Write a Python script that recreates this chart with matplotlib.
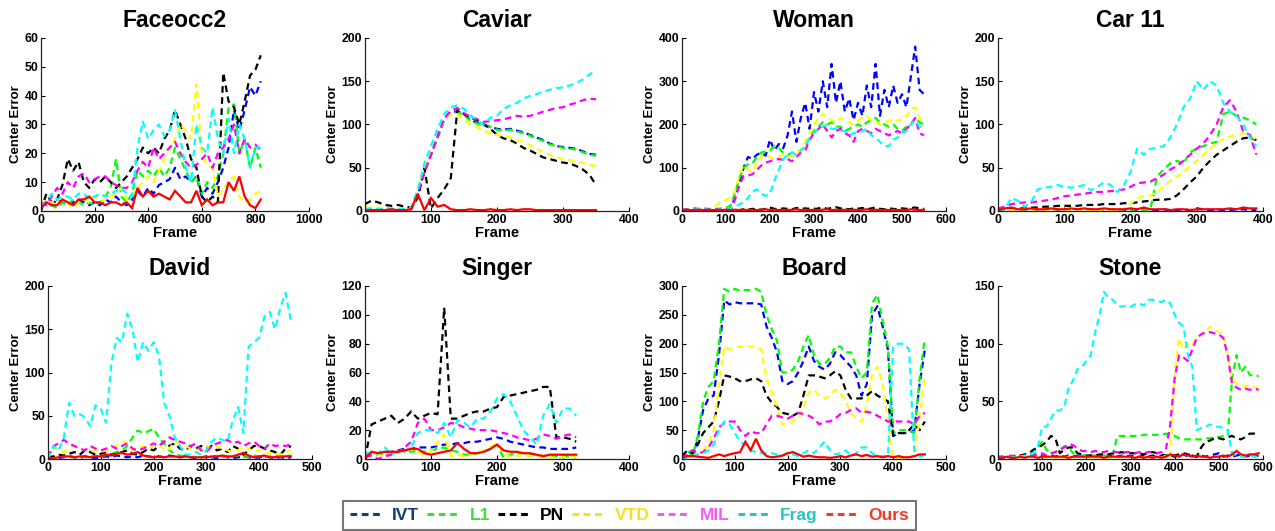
import numpy as np
import matplotlib.pyplot as plt
from matplotlib.lines import Line2D

plt.rcParams['font.family'] = ['Liberation Sans', 'DejaVu Sans']
plt.rcParams['font.weight'] = 'bold'

trackers = ["IVT", "L1", "PN", "VTD", "MIL", "Frag", "Ours"]
line_colors = ["#0000ff", "#00ff00", "#000000", "#ffff00", "#ff00ff", "#00ffff", "#ff0000"]
legend_colors = ["#143c78", "#3ddc3d", "#000000", "#f5e21a", "#f35cf3", "#27c4c4", "#f03a2a"]

# ---- Faceocc2 (frames every 20) ----
face_frames = np.arange(0, 821, 20)
face_ivt = [2, 3, 2, 4, 3, 2, 3, 4, 3, 2,
            3, 2, 4, 3, 5, 3, 2, 4, 7, 5,
            8, 6, 9, 10, 11, 15, 11, 12, 10, 12,
            5, 8, 6, 10, 15, 22, 35, 28, 35, 43,
            40, 45]
face_l1 = [2, 3, 2, 1, 3, 2, 4, 3, 2, 3,
           2, 3, 5, 8, 18, 5, 3, 6, 14, 12,
           14, 12, 15, 12, 15, 22, 18, 14, 10, 12,
           6, 10, 8, 12, 20, 36, 37, 20, 25, 15,
           22, 15]
face_pn = [0, 6, 3, 4, 9, 18, 14, 17, 10, 8,
           11, 10, 12, 10, 8, 10, 12, 15, 18, 22,
           20, 22, 20, 25, 28, 35, 30, 25, 18, 15,
           5, 3, 5, 3, 48, 38, 36, 30, 38, 47,
           49, 54]
face_vtd = [2, 4, 3, 2, 4, 3, 1, 3, 4, 3,
            5, 3, 4, 5, 6, 8, 4, 5, 8, 10,
            12, 10, 14, 18, 22, 25, 30, 28, 25, 44,
            20, 16, 15, 5, 8, 10, 12, 5, 3, 4,
            6, 7]
face_mil = [3, 2, 5, 8, 6, 10, 8, 12, 13, 10,
            11, 12, 12, 10, 9, 8, 8, 10, 14, 17,
            15, 22, 18, 20, 22, 24, 20, 17, 15, 16,
            18, 20, 15, 20, 22, 25, 30, 20, 25, 22,
            23, 21]
face_frag = [2, 3, 6, 4, 5, 5, 4, 6, 6, 4,
             5, 6, 5, 6, 7, 8, 6, 5, 22, 31,
             25, 28, 30, 26, 28, 35, 25, 15, 10, 30,
             22, 20, 36, 25, 20, 32, 20, 30, 25, 15,
             22, 22]
face_ours = [1, 3, 2, 2, 4, 3, 2, 4, 4, 5,
             3, 3, 2, 3, 3, 2, 3, 1, 8, 5,
             7, 5, 6, 5, 4, 7, 5, 3, 3, 7,
             2, 4, 2, 3, 3, 10, 7, 12, 5, 2,
             1, 4]

# ---- Caviar (frames every 10) ----
cav_frames = np.arange(0, 351, 10)
cav_ivt = [2, 1, 2, 2, 1, 2, 2, 2, 20, 45,
           65, 85, 105, 115, 115, 112, 105, 102, 100, 97,
           95, 94, 95, 93, 91, 88, 85, 82, 78, 75,
           74, 73, 72, 69, 66, 65]
cav_l1 = [3, 2, 1, 2, 2, 1, 2, 3, 22, 47,
          66, 86, 106, 114, 114, 111, 104, 101, 99, 97,
          94, 93, 94, 92, 90, 87, 84, 81, 77, 75,
          73, 72, 71, 68, 65, 64]
cav_pn = [8, 12, 10, 7, 6, 7, 5, 4, 15, 50,
          3, 15, 25, 38, 118, 112, 108, 105, 100, 95,
          88, 84, 82, 78, 73, 70, 66, 62, 60, 58,
          56, 55, 52, 48, 42, 30]
cav_vtd = [5, 3, 4, 3, 2, 3, 2, 3, 25, 50,
           68, 88, 105, 112, 112, 105, 100, 97, 93, 90,
           88, 87, 85, 82, 80, 76, 72, 68, 65, 62,
           60, 59, 57, 56, 53, 52]
cav_mil = [2, 2, 1, 3, 2, 2, 2, 3, 20, 45,
           65, 87, 107, 116, 119, 113, 109, 106, 103, 104,
           105, 106, 108, 110, 109, 110, 112, 115, 117, 119,
           120, 123, 125, 128, 130, 129]
cav_frag = [2, 3, 2, 2, 3, 2, 3, 4, 25, 55,
            75, 95, 112, 120, 122, 118, 110, 105, 100, 108,
            110, 118, 122, 125, 130, 133, 135, 138, 140, 142,
            143, 145, 148, 152, 158, 162]
cav_ours = [1, 1, 1, 1, 2, 1, 1, 2, 20, 1,
            15, 5, 7, 2, 1, 1, 2, 1, 1, 2,
            1, 1, 2, 1, 2, 2, 1, 1, 1, 1,
            1, 1, 1, 1, 1, 1]

# ---- Woman (frames every 10) ----
wom_frames = np.arange(0, 551, 10)
wom_ivt = [3, 2, 4, 3, 5, 4, 3, 4, 2, 3,
           3, 5, 30, 60, 100, 125, 120, 130, 135, 128,
           165, 140, 155, 145, 175, 230, 160, 215, 250, 190,
           275, 230, 300, 240, 340, 250, 300, 230, 260, 210,
           250, 220, 290, 240, 340, 220, 280, 240, 290, 250,
           270, 240, 310, 380, 280, 270]
wom_l1 = [3, 4, 5, 4, 5, 6, 5, 6, 5, 6,
          8, 12, 40, 75, 100, 108, 110, 125, 135, 138,
          140, 150, 145, 135, 130, 135, 135, 140, 150, 170,
          185, 195, 205, 200, 205, 195, 195, 185, 190, 195,
          200, 195, 205, 210, 215, 205, 200, 195, 200, 190,
          185, 195, 200, 215, 205, 200]
wom_pn = [2, 3, 2, 4, 3, 2, 3, 4, 3, 2,
          3, 4, 3, 2, 4, 3, 5, 4, 3, 5,
          8, 5, 4, 6, 5, 4, 7, 5, 6, 5,
          4, 6, 8, 5, 7, 9, 6, 5, 4, 6,
          5, 7, 4, 6, 8, 5, 4, 6, 5, 4,
          6, 5, 7, 8, 6, 5]
wom_vtd = [3, 4, 3, 5, 4, 5, 6, 8, 15, 22,
           25, 32, 45, 85, 105, 95, 90, 110, 125, 130,
           125, 120, 125, 130, 125, 125, 130, 145, 160, 180,
           200, 215, 225, 215, 210, 205, 215, 210, 205, 200,
           210, 215, 220, 210, 205, 200, 205, 210, 205, 210,
           210, 220, 235, 240, 215, 205]
wom_mil = [2, 4, 5, 6, 4, 5, 4, 5, 4, 5,
           4, 5, 25, 60, 80, 82, 85, 95, 105, 112,
           115, 118, 120, 118, 120, 115, 125, 135, 140, 165,
           180, 190, 200, 185, 170, 185, 190, 180, 175, 160,
           185, 190, 185, 180, 190, 185, 180, 175, 180, 185,
           180, 190, 200, 215, 180, 175]
wom_frag = [2, 3, 4, 3, 5, 4, 3, 4, 3, 4,
            5, 6, 10, 15, 20, 30, 45, 50, 40, 35,
            40, 70, 95, 120, 130, 135, 130, 140, 150, 170,
            180, 190, 195, 200, 190, 190, 185, 185, 175, 180,
            180, 185, 190, 175, 170, 160, 150, 150, 165, 170,
            180, 185, 200, 210, 195, 195]
wom_ours = [2, 3, 2, 2, 3, 2, 3, 2, 3, 2,
            3, 2, 3, 2, 3, 2, 3, 2, 3, 4,
            2, 3, 2, 3, 2, 3, 4, 2, 3, 2,
            3, 2, 3, 4, 2, 3, 2, 3, 2, 3,
            2, 3, 4, 2, 3, 2, 3, 2, 3, 2,
            3, 2, 4, 3, 2, 3]

# ---- Car 11 (frames every 10) ----
car_frames = np.arange(0, 391, 10)
car_ivt = [0, 1, 2, 1, 1, 2, 1, 1, 2, 1,
           1, 2, 1, 1, 2, 1, 1, 2, 1, 1,
           2, 1, 3, 1, 1, 2, 1, 1, 2, 1,
           3, 2, 1, 2, 1, 1, 2, 2, 1, 1]
car_l1 = [1, 2, 1, 1, 2, 1, 2, 1, 1, 2,
          1, 2, 1, 1, 2, 1, 2, 1, 1, 2,
          1, 2, 1, 2, 40, 48, 55, 58, 55, 68,
          72, 75, 78, 80, 112, 115, 110, 108, 105, 100]
car_pn = [1, 2, 2, 3, 3, 4, 4, 5, 5, 6,
          6, 6, 6, 7, 7, 7, 8, 8, 8, 9,
          9, 10, 11, 12, 13, 13, 14, 18, 25, 33,
          40, 50, 58, 65, 70, 75, 80, 84, 85, 82]
car_vtd = [1, 2, 1, 1, 2, 1, 2, 1, 1, 2,
           1, 2, 1, 2, 1, 1, 2, 1, 2, 2,
           8, 15, 17, 18, 22, 28, 35, 40, 45, 52,
           58, 65, 72, 78, 83, 86, 88, 90, 88, 82]
car_mil = [3, 5, 8, 9, 10, 10, 11, 12, 13, 15,
           17, 18, 19, 20, 21, 22, 22, 23, 24, 25,
           28, 32, 33, 34, 38, 42, 48, 52, 58, 65,
           72, 78, 88, 100, 120, 128, 115, 92, 88, 65]
car_frag = [0, 2, 15, 12, 5, 10, 25, 27, 28, 30,
            28, 27, 28, 30, 24, 28, 33, 30, 22, 30,
            45, 72, 65, 72, 73, 75, 85, 100, 120, 130,
            150, 140, 150, 145, 125, 115, 110, 100, 85, 75]
car_ours = [1, 3, 4, 2, 2, 3, 2, 2, 3, 2,
            2, 3, 2, 3, 2, 2, 3, 2, 2, 2,
            3, 2, 4, 2, 2, 2, 1, 2, 2, 1,
            2, 2, 2, 2, 2, 3, 2, 4, 3, 3]

# ---- David (frames every 10) ----
dav_frames = np.arange(0, 461, 10)
dav_ivt = [1, 2, 1, 2, 3, 2, 1, 3, 2, 1,
           2, 3, 2, 4, 3, 2, 3, 2, 4, 3,
           2, 3, 2, 4, 3, 2, 3, 2, 1, 2,
           3, 2, 1, 3, 2, 1, 2, 3, 2, 1,
           2, 3, 2, 1, 2, 1, 2]
dav_l1 = [1, 2, 3, 2, 4, 2, 3, 2, 3, 4,
          2, 5, 6, 8, 10, 15, 25, 33, 30, 32,
          35, 25, 18, 10, 6, 4, 3, 2, 3, 2,
          3, 2, 4, 3, 2, 3, 4, 3, 2, 4,
          3, 2, 3, 4, 2, 3, 4]
dav_pn = [2, 3, 5, 4, 6, 8, 5, 10, 8, 5,
          6, 8, 5, 6, 8, 10, 6, 5, 8, 12,
          10, 15, 20, 15, 18, 12, 10, 15, 12, 15,
          12, 15, 10, 12, 8, 15, 12, 5, 10, 15,
          15, 12, 10, 8, 5, 12, 15]
dav_vtd = [2, 15, 10, 8, 12, 15, 12, 10, 8, 10,
           8, 10, 12, 15, 20, 18, 10, 12, 15, 12,
           15, 18, 10, 12, 20, 18, 15, 12, 10, 12,
           15, 12, 15, 12, 10, 8, 10, 15, 12, 8,
           10, 8, 6, 8, 5, 8, 10]
dav_mil = [2, 15, 18, 22, 18, 15, 12, 10, 15, 12,
           10, 12, 15, 12, 15, 18, 12, 10, 12, 15,
           18, 15, 20, 25, 22, 20, 18, 15, 18, 10,
           8, 15, 18, 20, 22, 18, 20, 15, 18, 20,
           15, 12, 18, 15, 16, 15, 17]
dav_frag = [0, 15, 10, 25, 65, 50, 52, 48, 38, 62,
            58, 42, 110, 140, 135, 168, 150, 112, 135, 125,
            135, 120, 65, 50, 25, 15, 5, 5, 8, 5,
            10, 20, 25, 22, 20, 45, 60, 30, 130, 135,
            140, 165, 170, 150, 175, 192, 160]
dav_ours = [1, 1, 2, 3, 3, 2, 3, 3, 2, 3,
            3, 5, 4, 6, 7, 5, 6, 8, 4, 3,
            2, 3, 2, 3, 3, 2, 3, 2, 2, 2,
            2, 3, 3, 4, 3, 3, 5, 7, 4, 2,
            3, 4, 2, 2, 3, 3, 3]

# ---- Singer (frames every 10) ----
sin_frames = np.arange(0, 321, 10)
sin_ivt = [2, 3, 4, 4, 5, 6, 7, 7, 8, 8,
           8, 9, 10, 10, 11, 11, 12, 12, 13, 14,
           15, 14, 12, 11, 10, 9, 8, 8, 7, 7,
           7, 7, 8]
sin_l1 = [3, 3, 3, 4, 4, 5, 6, 5, 6, 5,
          6, 7, 8, 6, 5, 3, 3, 4, 5, 7,
          10, 1, 3, 4, 4, 3, 3, 2, 2, 2,
          2, 2, 1]
sin_pn = [0, 24, 26, 28, 30, 25, 28, 33, 28, 30,
          32, 31, 105, 28, 28, 30, 32, 33, 33, 35,
          36, 43, 44, 45, 46, 47, 48, 50, 50, 15,
          15, 14, 12]
sin_vtd = [2, 5, 3, 3, 4, 5, 6, 7, 5, 3,
           5, 12, 17, 2, 3, 2, 3, 5, 6, 8,
           11, 3, 2, 2, 3, 2, 2, 1, 1, 1,
           1, 2, 1]
sin_mil = [3, 2, 0, 2, 3, 5, 8, 12, 25, 28,
           20, 20, 22, 25, 24, 22, 21, 20, 20, 20,
           19, 18, 17, 15, 14, 13, 14, 17, 16, 14,
           16, 17, 15]
sin_frag = [5, 3, 4, 8, 3, 5, 5, 8, 18, 20,
            20, 18, 25, 15, 27, 25, 22, 28, 28, 33,
            42, 45, 40, 30, 20, 15, 10, 30, 38, 25,
            35, 35, 30]
sin_ours = [0, 5, 4, 5, 5, 5, 6, 7, 7, 4,
            3, 4, 5, 6, 11, 7, 4, 4, 5, 7,
            10, 6, 5, 5, 4, 4, 3, 2, 3, 3,
            3, 3, 3]

# ---- Board (frames every 10) ----
brd_frames = np.arange(0, 461, 10)
brd_ivt = [0, 10, 5, 35, 85, 105, 110, 180, 275, 268,
           272, 270, 270, 270, 270, 268, 230, 210, 185, 135,
           130, 135, 150, 170, 195, 170, 160, 155, 165, 185,
           180, 170, 160, 145, 110, 130, 250, 265, 230, 190,
           40, 45, 45, 45, 50, 130, 190]
brd_l1 = [0, 15, 5, 40, 100, 125, 135, 200, 295, 290,
          295, 292, 293, 293, 295, 290, 250, 225, 205, 150,
          150, 155, 170, 195, 215, 180, 165, 165, 175, 195,
          195, 185, 185, 160, 140, 150, 270, 285, 240, 195,
          45, 50, 50, 50, 45, 140, 210]
brd_pn = [5, 15, 10, 25, 45, 55, 65, 100, 145, 143,
          140, 135, 135, 138, 140, 135, 110, 98, 90, 80,
          78, 75, 80, 110, 145, 145, 143, 140, 145, 152,
          145, 120, 105, 105, 105, 110, 118, 110, 105, 100,
          40, 45, 45, 50, 60, 50, 65]
brd_vtd = [0, 5, 5, 10, 15, 25, 50, 130, 195, 190,
           193, 195, 195, 195, 195, 190, 140, 115, 90, 60,
           62, 65, 70, 90, 115, 120, 110, 105, 110, 120,
           115, 100, 80, 70, 65, 95, 145, 160, 130, 65,
           2, 2, 2, 3, 5, 70, 140]
brd_mil = [0, 10, 15, 10, 12, 20, 35, 55, 62, 65,
           65, 50, 40, 48, 45, 45, 60, 75, 75, 72,
           70, 75, 80, 78, 75, 70, 60, 65, 65, 70,
           78, 80, 85, 88, 80, 82, 80, 75, 70, 65,
           65, 65, 65, 65, 60, 75, 80]
brd_frag = [0, 3, 5, 8, 10, 15, 25, 50, 65, 60,
            45, 30, 25, 15, 12, 10, 10, 10, 8, 5,
            10, 8, 5, 10, 15, 10, 20, 30, 15, 8,
            10, 15, 5, 10, 20, 20, 10, 5, 5, 5,
            195, 200, 200, 190, 10, 5, 5]
brd_ours = [2, 5, 5, 4, 3, 2, 5, 8, 5, 8,
            10, 12, 30, 15, 35, 15, 5, 3, 4, 6,
            10, 12, 8, 4, 6, 4, 3, 3, 2, 3,
            5, 3, 6, 8, 5, 7, 4, 5, 3, 5,
            3, 5, 3, 3, 5, 8, 8]

# ---- Stone (frames every 10) ----
sto_frames = np.arange(0, 591, 10)
sto_ivt = [1, 2, 1, 2, 1, 2, 2, 3, 2, 4,
           3, 2, 3, 2, 3, 2, 3, 2, 3, 2,
           2, 3, 2, 2, 3, 2, 3, 2, 3, 2,
           3, 2, 2, 3, 2, 3, 2, 3, 2, 3,
           2, 3, 4, 2, 3, 2, 3, 2, 3, 4,
           5, 2, 3, 2, 3, 4, 2, 3, 2, 3]
sto_l1 = [2, 2, 1, 2, 3, 2, 3, 4, 5, 10,
          15, 8, 4, 6, 8, 11, 10, 5, 4, 3,
          3, 3, 3, 3, 3, 3, 3, 20, 20, 20,
          20, 20, 20, 21, 21, 21, 21, 21, 22, 21,
          20, 18, 17, 17, 17, 17, 17, 18, 18, 19,
          19, 20, 20, 70, 90, 75, 80, 73, 72, 72]
sto_pn = [2, 1, 2, 2, 3, 3, 4, 5, 8, 10,
          12, 15, 20, 18, 5, 8, 10, 10, 5, 4,
          3, 3, 3, 4, 4, 4, 5, 5, 6, 5,
          5, 5, 5, 4, 5, 6, 5, 4, 3, 3,
          3, 4, 5, 4, 3, 2, 10, 15, 16, 18,
          18, 17, 19, 20, 18, 17, 19, 22, 22, 20]
sto_vtd = [1, 1, 2, 1, 2, 1, 2, 1, 2, 2,
           2, 1, 2, 1, 2, 1, 2, 1, 2, 1,
           2, 1, 2, 1, 2, 1, 2, 1, 2, 1,
           2, 1, 2, 1, 2, 1, 2, 1, 3, 2,
           75, 105, 95, 100, 98, 105, 108, 110, 115, 112,
           110, 108, 90, 70, 65, 64, 63, 64, 62, 62]
sto_mil = [2, 2, 1, 3, 2, 3, 2, 3, 4, 4,
           5, 3, 5, 6, 8, 10, 13, 12, 9, 7,
           7, 6, 7, 6, 6, 7, 6, 6, 5, 6,
           6, 5, 6, 5, 6, 6, 5, 6, 8, 30,
           70, 90, 88, 85, 95, 105, 108, 110, 110, 109,
           108, 105, 90, 65, 62, 60, 61, 60, 61, 60]
sto_frag = [0, 1, 2, 1, 2, 2, 3, 3, 5, 10,
            28, 28, 35, 42, 42, 45, 62, 68, 78, 80,
            85, 90, 110, 125, 145, 140, 138, 133, 132, 133,
            132, 134, 135, 133, 138, 138, 137, 136, 138, 135,
            125, 118, 115, 90, 80, 25, 27, 28, 30, 28,
            28, 27, 25, 5, 3, 2, 2, 3, 2, 2]
sto_ours = [1, 1, 2, 1, 1, 2, 1, 2, 2, 1,
            2, 2, 2, 2, 2, 2, 1, 2, 2, 2,
            2, 2, 2, 2, 1, 2, 2, 2, 2, 2,
            2, 1, 2, 1, 2, 1, 2, 1, 2, 4,
            3, 2, 4, 3, 2, 3, 2, 2, 1, 2,
            2, 3, 2, 4, 7, 4, 3, 4, 4, 5]

panels = [
    ("Faceocc2", face_frames, [face_ivt, face_l1, face_pn, face_vtd, face_mil, face_frag, face_ours],
     (0, 1000), np.arange(0, 1001, 200), (0, 60), np.arange(0, 61, 10)),
    ("Caviar", cav_frames, [cav_ivt, cav_l1, cav_pn, cav_vtd, cav_mil, cav_frag, cav_ours],
     (0, 400), np.arange(0, 401, 100), (0, 200), np.arange(0, 201, 50)),
    ("Woman", wom_frames, [wom_ivt, wom_l1, wom_pn, wom_vtd, wom_mil, wom_frag, wom_ours],
     (0, 600), np.arange(0, 601, 100), (0, 400), np.arange(0, 401, 100)),
    ("Car 11", car_frames, [car_ivt, car_l1, car_pn, car_vtd, car_mil, car_frag, car_ours],
     (0, 400), np.arange(0, 401, 100), (0, 200), np.arange(0, 201, 50)),
    ("David", dav_frames, [dav_ivt, dav_l1, dav_pn, dav_vtd, dav_mil, dav_frag, dav_ours],
     (0, 500), np.arange(0, 501, 100), (0, 200), np.arange(0, 201, 50)),
    ("Singer", sin_frames, [sin_ivt, sin_l1, sin_pn, sin_vtd, sin_mil, sin_frag, sin_ours],
     (0, 400), np.arange(0, 401, 100), (0, 120), np.arange(0, 121, 20)),
    ("Board", brd_frames, [brd_ivt, brd_l1, brd_pn, brd_vtd, brd_mil, brd_frag, brd_ours],
     (0, 500), np.arange(0, 501, 100), (0, 300), np.arange(0, 301, 50)),
    ("Stone", sto_frames, [sto_ivt, sto_l1, sto_pn, sto_vtd, sto_mil, sto_frag, sto_ours],
     (0, 600), np.arange(0, 601, 100), (0, 150), np.arange(0, 151, 50)),
]

W, H = 1275, 531
fig = plt.figure(figsize=(W / 100, H / 100), dpi=100)

# axes boxes in pixels: (left, top, right, bottom)
boxes = [(41, 38, 309, 211), (365, 38, 629, 211), (682, 38, 946, 211), (998, 38, 1263, 211),
         (48, 286, 312, 459), (365, 286, 629, 459), (682, 286, 946, 459), (998, 286, 1263, 459)]

for (title, frames, series, xlim, xt, ylim, yt), (l, t, r, b) in zip(panels, boxes):
    ax = fig.add_axes([l / W, 1 - b / H, (r - l) / W, (b - t) / H])
    for name, col, vals in zip(trackers, line_colors, series):
        if name == "Ours":
            ax.plot(frames, vals, color=col, lw=1.6, solid_joinstyle="miter")
        else:
            ax.plot(frames, vals, color=col, lw=1.6, linestyle=(0, (3, 2)))
    ax.set_xlim(*xlim)
    ax.set_ylim(*ylim)
    ax.set_xticks(xt)
    ax.set_yticks(yt)
    ax.spines["top"].set_visible(False)
    ax.spines["right"].set_visible(False)
    for s in ("left", "bottom"):
        ax.spines[s].set_linewidth(0.9)
        ax.spines[s].set_color("#222222")
    ax.tick_params(direction="in", length=3, width=0.8, labelsize=8.8, pad=2)
    for lab in ax.get_xticklabels() + ax.get_yticklabels():
        lab.set_fontweight("bold")
    ax.set_title(title, fontsize=16.5, fontweight="bold", pad=8)
    ax.set_xlabel("Frame", fontsize=10.5, fontweight="bold", labelpad=0)
    ax.set_ylabel("Center Error", fontsize=9.5, fontweight="bold", labelpad=2)

handles = [Line2D([], [], color=c, lw=2.2, linestyle=(0, (2.2, 1.5))) for c in legend_colors]
leg = fig.legend(handles, trackers, loc="lower center", bbox_to_anchor=(0.4935, -0.015),
                 ncol=7, frameon=True, fancybox=False, handlelength=1.9,
                 handletextpad=0.55, columnspacing=0.45, borderpad=0.4,
                 prop={"weight": "bold", "size": 12.5})
leg.get_frame().set_edgecolor("#555555")
leg.get_frame().set_linewidth(1.5)
for txt, c in zip(leg.get_texts(), legend_colors):
    txt.set_color(c)

fig.savefig("out.png", dpi=100)
